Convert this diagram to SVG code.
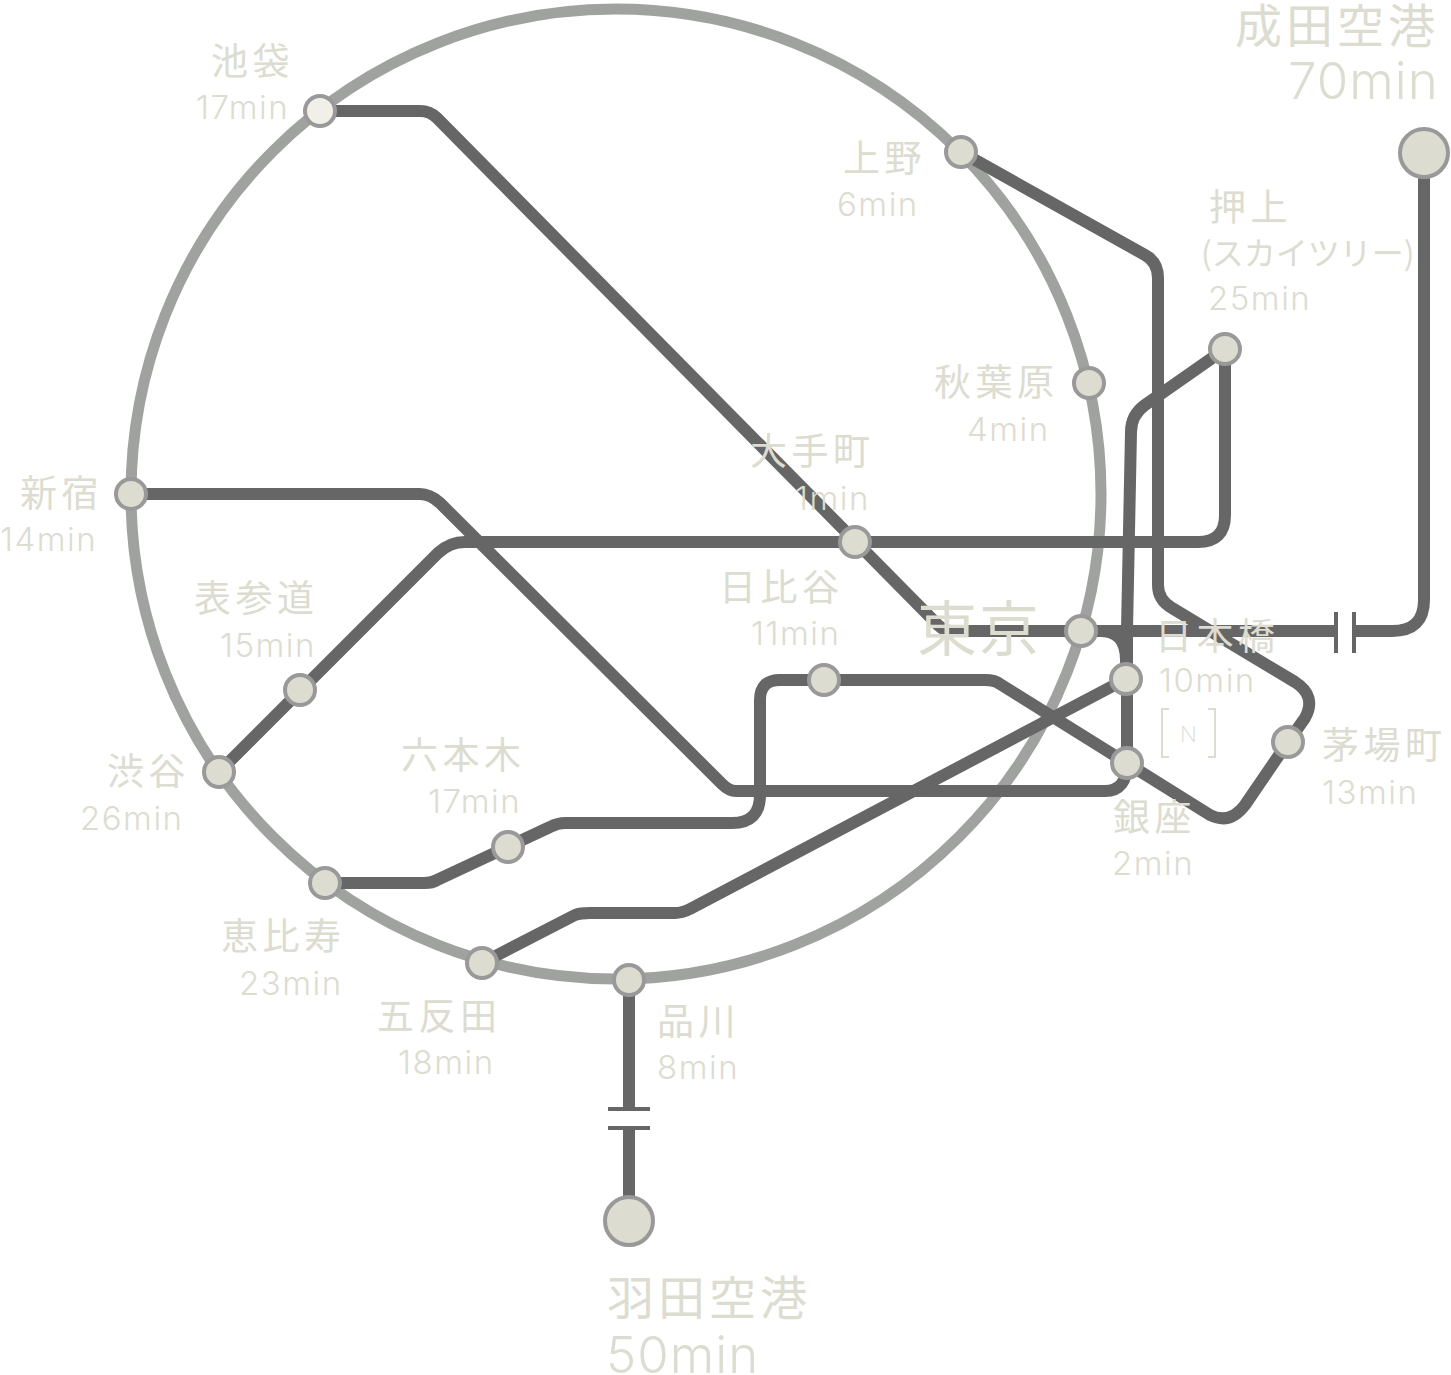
<svg xmlns="http://www.w3.org/2000/svg" width="1451" height="1375" viewBox="0 0 1451 1375">
<style>
.ring{fill:none;stroke:#a0a2a0;stroke-width:11}
.ln{fill:none;stroke:#666;stroke-width:12;stroke-linejoin:round}
.bar{fill:none;stroke:#666;stroke-width:4}
.st{fill:#dcdcd0;stroke:#999;stroke-width:4}
.ap{fill:#dcdcd0;stroke:#999;stroke-width:4}
text{fill:#dcdcd0}
.j{font-family:"Noto Sans CJK JP","Noto Sans",sans-serif;font-size:37px;letter-spacing:4.5px;font-weight:400}
.k{font-family:"Noto Sans CJK JP","Noto Sans",sans-serif;font-size:32px;font-weight:400}
.m{font-family:"Inter","Lato",sans-serif;font-size:33px;letter-spacing:1.5px;font-weight:300}
.bj{font-family:"Noto Sans CJK JP","Noto Sans",sans-serif;font-size:47px;letter-spacing:4px;font-weight:400}
.bm{font-family:"Inter","Lato",sans-serif;font-size:51px;letter-spacing:1px;font-weight:300}
.tk{font-family:"Noto Sans CJK JP","Noto Sans",sans-serif;font-size:60px;letter-spacing:2px;font-weight:400}
.nm{fill:none;stroke:#dcdcd0;stroke-width:2}
</style>
<circle class="ring" cx="616" cy="494" r="485"/>
<g id="connectors">
<path class="ln" d="M320,111H420Q430,111 437,118L938,625Q944,631 952,631H1336"/>
<path class="ln" d="M1354,631H1392Q1424,631 1424,600V153"/>
<path class="ln" d="M961,152L1145,255Q1158,262 1158,278V585Q1158,600 1172,608L1295,682Q1317,696 1305,718L1288,742L1245,805Q1230,825 1210,815L1000,684Q995,680 985,680H780Q760,680 760,700V795Q760,823 732,823H565Q558,823 550,827L437,880Q432,883 425,883H325"/>
<path class="ln" d="M1225,349L1145,405Q1131,415 1131,432L1127,630V763Q1127,791 1105,791H736Q729,791 722,784L440,503Q430,494 420,494H131"/>
<path class="ln" d="M1081,631H1100Q1126,631 1126,660V679"/>
<path class="ln" d="M1225,349V515Q1225,542 1198,542H465Q450,542 438,553L219,772"/>
<path class="ln" d="M482,963L575,915Q580,913 590,913H675Q682,913 690,909L1126,679"/>
<path class="ln" d="M629,980V1109M629,1128V1221"/>
<path class="bar" d="M1336,612V653M1354,612V653M608,1109H650M608,1128H650"/>
</g>
<g id="n-mark">
<path class="nm" d="M1169,709H1162V757H1169M1208,709H1215V757H1208"/>
<text x="1188.500" y="742" text-anchor="middle" font-family="Inter,sans-serif" font-size="22" font-weight="200">N</text>
</g>
<g id="ikebukuro"><circle class="st" style="fill:#f0f0e8" cx="320" cy="111" r="15"/><text class="j" x="211" y="75">池袋</text><text class="m" x="196" y="119">17min</text></g>
<g id="ueno"><circle class="st" cx="961" cy="152" r="15"/><text class="j" x="843" y="172">上野</text><text class="m" x="837" y="216">6min</text></g>
<g id="akihabara"><circle class="st" cx="1089" cy="383" r="15"/><text class="j" x="934" y="396">秋葉原</text><text class="m" x="967" y="441">4min</text></g>
<g id="oshiage"><circle class="st" cx="1225" cy="349" r="15"/><text class="j" x="1209" y="221">押上</text><text class="k" x="1201" y="265">(スカイツリー)</text><text class="m" x="1208" y="310">25min</text></g>
<g id="narita"><circle class="ap" cx="1424" cy="153" r="24"/><text class="bj" x="1235" y="43">成田空港</text><text class="bm" x="1288" y="99">70min</text></g>
<g id="otemachi"><circle class="st" cx="855" cy="542" r="15"/><text class="j" x="750" y="465">大手町</text><text class="m" x="795" y="510">1min</text></g>
<g id="tokyo"><circle class="st" cx="1081" cy="631" r="15"/><text class="tk" x="917" y="651">東京</text></g>
<g id="nihonbashi"><circle class="st" cx="1126" cy="679" r="15"/><text class="j" x="1155" y="650">日本橋</text><text class="m" x="1159" y="692">10min</text></g>
<g id="ginza"><circle class="st" cx="1127" cy="763" r="15"/><text class="j" x="1113" y="831">銀座</text><text class="m" x="1112" y="875">2min</text></g>
<g id="kayabacho"><circle class="st" cx="1288" cy="742" r="15"/><text class="j" x="1322" y="759">茅場町</text><text class="m" x="1322" y="804">13min</text></g>
<g id="hibiya"><circle class="st" cx="824" cy="680" r="15"/><text class="j" x="719" y="601">日比谷</text><text class="m" x="751" y="645">11min</text></g>
<g id="shinjuku"><circle class="st" cx="131" cy="494" r="15"/><text class="j" x="20" y="507">新宿</text><text class="m" x="0" y="551">14min</text></g>
<g id="omotesando"><circle class="st" cx="300" cy="690" r="15"/><text class="j" x="194" y="612">表参道</text><text class="m" x="220" y="657">15min</text></g>
<g id="shibuya"><circle class="st" cx="219" cy="772" r="15"/><text class="j" x="107" y="785">渋谷</text><text class="m" x="80" y="830">26min</text></g>
<g id="roppongi"><circle class="st" cx="508" cy="847" r="15"/><text class="j" x="401" y="769">六本木</text><text class="m" x="428" y="813">17min</text></g>
<g id="ebisu"><circle class="st" cx="325" cy="883" r="15"/><text class="j" x="221" y="950">恵比寿</text><text class="m" x="239" y="995">23min</text></g>
<g id="gotanda"><circle class="st" cx="482" cy="963" r="15"/><text class="j" x="377" y="1030">五反田</text><text class="m" x="398" y="1074">18min</text></g>
<g id="shinagawa"><circle class="st" cx="629" cy="980" r="15"/><text class="j" x="657" y="1035">品川</text><text class="m" x="657" y="1079">8min</text></g>
<g id="haneda"><circle class="ap" cx="629" cy="1221" r="24"/><text class="bj" x="607" y="1315">羽田空港</text><text class="bm" x="606" y="1373">50min</text></g>
</svg>
